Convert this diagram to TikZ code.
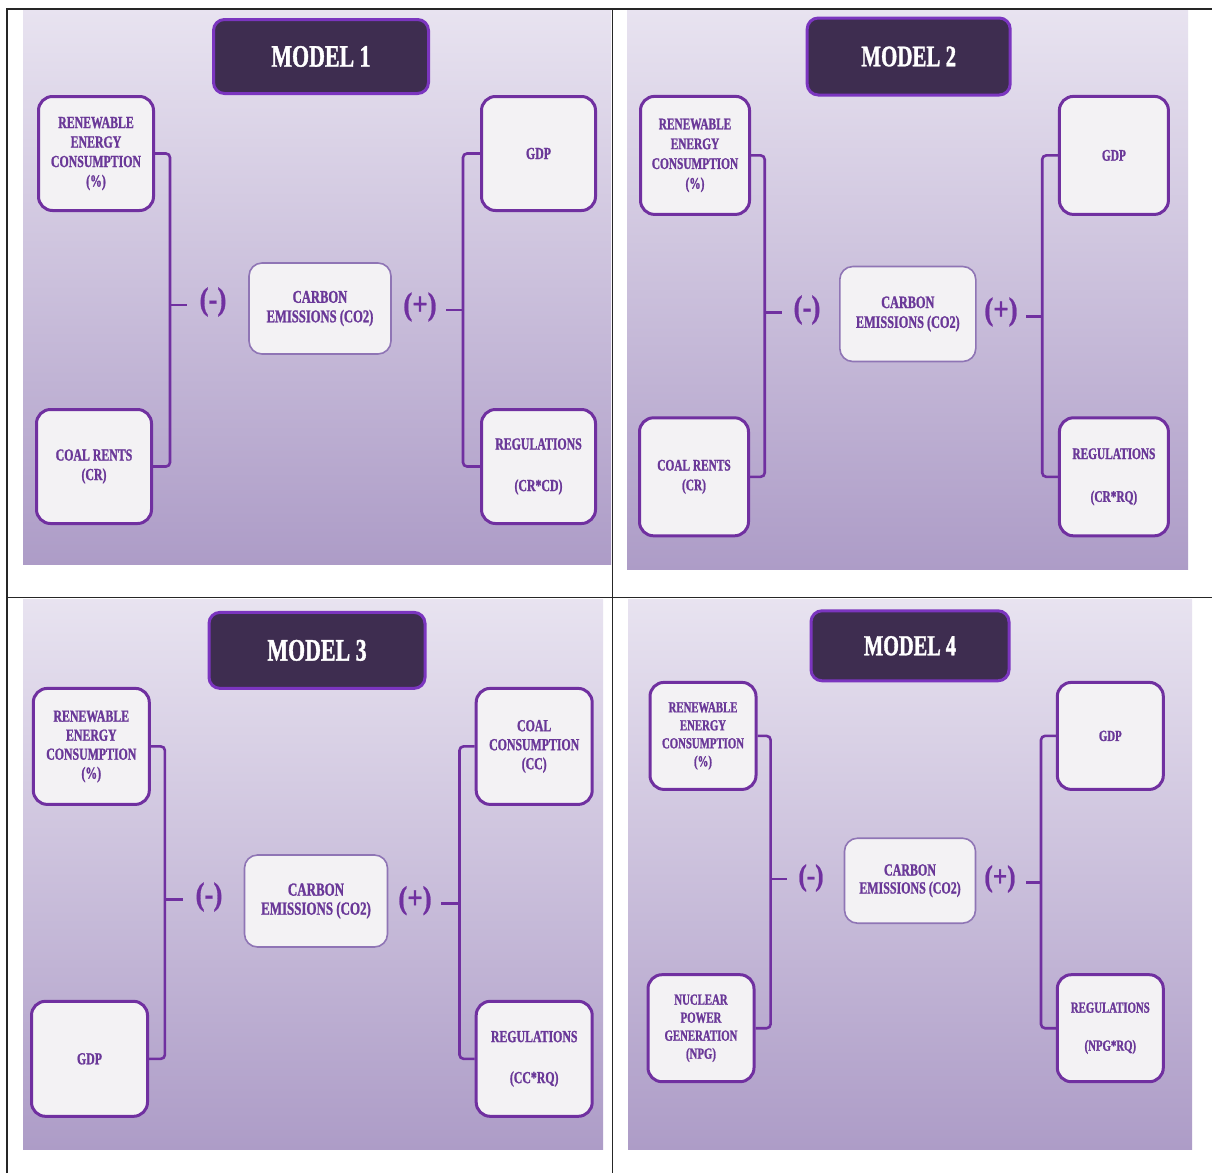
\documentclass[tikz,border=0pt]{standalone}
\usepackage{fontspec}
\newfontfamily\cond[FakeStretch=0.70,FakeBold=1.2]{Liberation Serif Bold}
\newfontfamily\condsg[FakeStretch=0.84,FakeBold=0.8]{Liberation Serif Bold}
\definecolor{bgtop}{HTML}{E8E3F0}
\definecolor{bgbot}{HTML}{AD9CC7}
\definecolor{vp}{HTML}{7030A0}
\definecolor{txtp}{HTML}{6A3898}
\definecolor{ttlfill}{HTML}{3E2D50}
\definecolor{ttlline}{HTML}{7B35BF}
\definecolor{boxfill}{HTML}{F3F2F4}
\definecolor{coline}{HTML}{8F75B5}
\definecolor{rulec}{HTML}{262626}
\newcommand\setpf[5]{%
  \def\boxfont{\cond\fontsize{#1}{#2}\selectfont}%
  \def\titlefont{\cond\fontsize{#3}{#3}\selectfont}%
  \def\cofont{\cond\fontsize{#4}{#2}\selectfont}%
  \def\signfont{\condsg\fontsize{#5}{#5}\selectfont}}
\setpf{15.5}{19.5}{28.5}{16.5}{31}
\tikzset{
 panelbg/.style={top color=bgtop,bottom color=bgbot,draw=none},
 ttl/.style={draw=ttlline,line width=3pt,fill=ttlfill,rounded corners=11pt,text=white,font=\titlefont,inner sep=0pt},
 var/.style={draw=vp,line width=3pt,fill=boxfill,rounded corners=14pt,text=txtp,font=\boxfont,align=center,inner sep=0pt},
 co/.style={draw=coline,line width=1.6pt,fill=boxfill,rounded corners=13pt,text=txtp,font=\cofont,align=center,inner sep=0pt},
 sgn/.style={text=vp,font=\signfont,inner sep=0pt},
 brk/.style={draw=vp,line width=2.6pt,rounded corners=4pt},
 rulel/.style={draw=rulec,line width=1.8pt}
}
\begin{document}
\begin{tikzpicture}[x=1pt,y=-1pt]
\useasboundingbox (0,0) rectangle (1212,1173);
\fill[white] (0,0) rectangle (1212,1173);

% ---------------- MODEL 1 ----------------
\setpf{16.9}{19.5}{31.3}{18}{32}
\shade[panelbg] (23,10) rectangle (611,564);
\node[ttl,minimum width=215pt,minimum height=74pt] (t1) at (321,56.5) {MODEL 1};
\node[var,minimum width=115pt,minimum height=114pt] (a1) at (96,153.5) {RENEWABLE\\ENERGY\\CONSUMPTION\\(\%)};
\node[var,minimum width=115pt,minimum height=114pt] (b1) at (94,466.5) {COAL RENTS\\(CR)};
\node[var,minimum width=114pt,minimum height=114pt] (c1) at (538.5,153.5) {GDP};
\node[var,minimum width=114pt,minimum height=114pt] (d1) at (538.5,466.5) {REGULATIONS\\[22pt](CR*CD)};
\node[co,minimum width=142pt,minimum height=91pt] (e1) at (320,308.5) {CARBON\\EMISSIONS (CO2)};
\node[sgn] (m1) at (213,302) {(-)};
\node[sgn] (p1) at (420,307) {(+)};
\coordinate (lb1) at (170,305);
\coordinate (lt1) at (187,305);
\coordinate (rb1) at (463,310);
\coordinate (rt1) at (446,310);
\draw[brk] (a1.east) -| (lb1) |- (b1.east);
\draw[brk] (lb1) -- (lt1);
\draw[brk] (c1.west) -| (rb1) |- (d1.west);
\draw[brk] (rb1) -- (rt1);

% ---------------- MODEL 2 ----------------
\setpf{16.2}{19.8}{29.9}{17.5}{32}
\shade[panelbg] (627,10) rectangle (1188,569);
\node[ttl,minimum width=203pt,minimum height=77pt] (t2) at (908.7,56.5) {MODEL 2};
\node[var,minimum width=109pt,minimum height=118pt] (a2) at (695,155.4) {RENEWABLE\\ENERGY\\CONSUMPTION\\(\%)};
\node[var,minimum width=109pt,minimum height=118pt] (b2) at (694,476.8) {COAL RENTS\\(CR)};
\node[var,minimum width=109pt,minimum height=118pt] (c2) at (1113.9,155.4) {GDP};
\node[var,minimum width=109pt,minimum height=118pt] (d2) at (1113.9,476.8) {REGULATIONS\\[23pt](CR*RQ)};
\node[co,minimum width=136pt,minimum height=95pt] (e2) at (907.8,314) {CARBON\\EMISSIONS (CO2)};
\node[sgn] (m2) at (807,310) {(-)};
\node[sgn] (p2) at (1001,312) {(+)};
\coordinate (lb2) at (764.7,312.3);
\coordinate (lt2) at (781.5,312.3);
\coordinate (rb2) at (1042.2,316.5);
\coordinate (rt2) at (1025.5,316.5);
\draw[brk] (a2.east) -| (lb2) |- (b2.east);
\draw[brk] (lb2) -- (lt2);
\draw[brk] (c2.west) -| (rb2) |- (d2.west);
\draw[brk] (rb2) -- (rt2);

% ---------------- MODEL 3 ----------------
\setpf{16.9}{19}{31.3}{18.5}{32}
\shade[panelbg] (23,599) rectangle (603,1149);
\node[ttl,minimum width=216pt,minimum height=76pt] (t3) at (317,650.4) {MODEL 3};
\node[var,minimum width=116pt,minimum height=116pt] (a3) at (91.3,746.4) {RENEWABLE\\ENERGY\\CONSUMPTION\\(\%)};
\node[var,minimum width=116pt,minimum height=115pt] (b3) at (89.5,1058.8) {GDP};
\node[var,minimum width=116pt,minimum height=116pt] (c3) at (534.2,746.4) {COAL\\CONSUMPTION\\(CC)};
\node[var,minimum width=116pt,minimum height=115pt] (d3) at (534.2,1058.8) {REGULATIONS\\[22pt](CC*RQ)};
\node[co,minimum width=143pt,minimum height=92pt] (e3) at (316,901) {CARBON\\EMISSIONS (CO2)};
\node[sgn] (m3) at (209,897) {(-)};
\node[sgn] (p3) at (415,900.7) {(+)};
\coordinate (lb3) at (164.9,899.6);
\coordinate (lt3) at (182.7,899.6);
\coordinate (rb3) at (459.5,903.4);
\coordinate (rt3) at (440.9,903.4);
\draw[brk] (a3.east) -| (lb3) |- (b3.east);
\draw[brk] (lb3) -- (lt3);
\draw[brk] (c3.west) -| (rb3) |- (d3.west);
\draw[brk] (rb3) -- (rt3);

% ---------------- MODEL 4 ----------------
\setpf{15.4}{18}{29}{17.1}{30}
\shade[panelbg] (628,599) rectangle (1192,1149);
\node[ttl,minimum width=198pt,minimum height=70pt] (t4) at (910,645.8) {MODEL 4};
\node[var,minimum width=106pt,minimum height=107pt] (a4) at (703,735.9) {RENEWABLE\\ENERGY\\CONSUMPTION\\(\%)};
\node[var,minimum width=106pt,minimum height=107pt] (b4) at (701,1028.2) {NUCLEAR\\POWER\\GENERATION\\(NPG)};
\node[var,minimum width=106pt,minimum height=107pt] (c4) at (1110.3,735.9) {GDP};
\node[var,minimum width=106pt,minimum height=107pt] (d4) at (1110.3,1028.2) {REGULATIONS\\[20pt](NPG*RQ)};
\node[co,minimum width=131pt,minimum height=85pt] (e4) at (910,880.7) {CARBON\\EMISSIONS (CO2)};
\node[sgn] (m4) at (811,878) {(-)};
\node[sgn] (p4) at (1000,879) {(+)};
\coordinate (lb4) at (770.6,878.8);
\coordinate (lt4) at (786.6,878.8);
\coordinate (rb4) at (1041,882.6);
\coordinate (rt4) at (1025.5,882.6);
\draw[brk] (a4.east) -| (lb4) |- (b4.east);
\draw[brk] (lb4) -- (lt4);
\draw[brk] (c4.west) -| (rb4) |- (d4.west);
\draw[brk] (rb4) -- (rt4);

% ---------------- table rules ----------------
\draw[rulel] (7,1173) -- (7,9) -- (1212,9);
\draw[rulel] (612.5,9) -- (612.5,1173);
\draw[rulel] (7,597.5) -- (1212,597.5);
\end{tikzpicture}
\end{document}
